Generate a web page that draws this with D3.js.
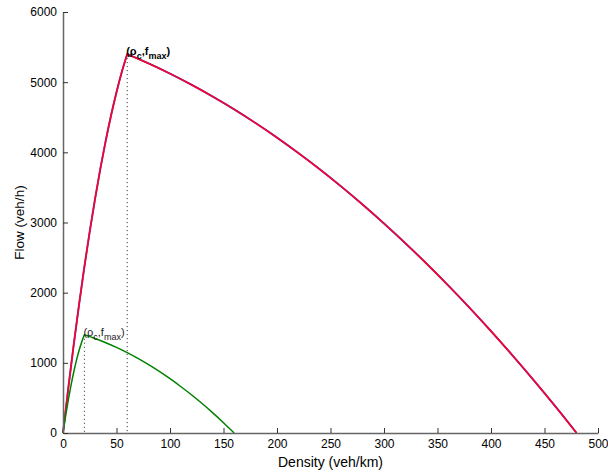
<!DOCTYPE html>
<html>
<head>
<meta charset="utf-8">
<script src="https://cdn.jsdelivr.net/npm/d3@7"></script>
<style>
  body { margin: 0; background: #fff; }
  svg text { font-family: "Liberation Sans", Arial, sans-serif; }
</style>
</head>
<body>
<svg id="chart" width="608" height="475"></svg>
<script>
const width = 608;
const height = 475;

// red curve (free-flow branch, then congested branch)
const redFreeDensity = [0, 5, 10, 15, 20, 25, 30, 35, 40, 45, 50, 55, 60];
const redFreeFlow = [0, 646, 1256, 1831, 2370, 2873, 3341, 3774, 4170, 4532, 4857, 5148, 5400];
const redCongDensity = [60, 80, 100, 120, 140, 160, 180, 200, 220, 240, 260, 280, 300, 320, 340, 360, 380, 400, 420, 440, 460, 480];
const redCongFlow = [5400, 5267, 5122, 4964, 4794, 4612, 4417, 4210, 3990, 3758, 3513, 3256, 2986, 2704, 2410, 2103, 1784, 1452, 1107, 751, 382, 0];

// green curve
const greenFreeDensity = [0, 2.5, 5, 7.5, 10, 12.5, 15, 17.5, 20];
const greenFreeFlow = [0, 248, 475, 681, 866, 1031, 1175, 1298, 1400];
const greenCongDensity = [20, 30, 40, 50, 60, 70, 80, 90, 100, 110, 120, 130, 140, 150, 160];
const greenCongFlow = [1400, 1347, 1287, 1220, 1145, 1063, 974, 878, 774, 663, 545, 420, 287, 147, 0];

// critical points
const critDensity = [60, 20];
const critFlow = [5400, 1400];

const xTicks = [0, 50, 100, 150, 200, 250, 300, 350, 400, 450, 500];
const yTicks = [0, 1000, 2000, 3000, 4000, 5000, 6000];

const margin = {left: 63, right: 10, top: 12, bottom: 42};

const svg = d3.select("#chart");

const x = d3.scaleLinear().domain([0, 500]).range([margin.left, width - margin.right]);
const y = d3.scaleLinear().domain([0, 6000]).range([height - margin.bottom, margin.top]);

function zipPts(xs, ys) {
    return xs.map((d, i) => [d, ys[i]]);
}

const line = d3.line()
    .x(d => x(d[0]))
    .y(d => y(d[1]))
    .curve(d3.curveMonotoneX);

// two branches joined in one path, kink kept at the peak
function branches(a, b) {
    return line(a) + line(b).replace(/^M/, "L");
}

// dotted verticals
svg.selectAll(".crit")
    .data(critDensity)
    .enter()
    .append("line")
    .attr("x1", d => x(d))
    .attr("x2", d => x(d))
    .attr("y1", (d, i) => y(critFlow[i]))
    .attr("y2", y(0))
    .attr("stroke", "#222")
    .attr("stroke-width", 1)
    .attr("stroke-dasharray", "1,3");

const redD = branches(zipPts(redFreeDensity, redFreeFlow), zipPts(redCongDensity, redCongFlow));
const greenD = branches(zipPts(greenFreeDensity, greenFreeFlow), zipPts(greenCongDensity, greenCongFlow));

svg.append("path").attr("d", redD)
    .attr("fill", "none").attr("stroke", "#4040d0").attr("stroke-width", 1.9);
svg.append("path").attr("d", redD)
    .attr("fill", "none").attr("stroke", "#ff0022").attr("stroke-width", 1.6);
svg.append("path").attr("d", greenD)
    .attr("fill", "none").attr("stroke", "#008000").attr("stroke-width", 1.5);

// axes
const xAxis = svg.append("g")
    .attr("transform", `translate(0,${y(0)})`)
    .call(d3.axisBottom(x).tickValues(xTicks).tickFormat(d3.format("d"))
        .tickSizeInner(-5).tickSizeOuter(0).tickPadding(6));
const yAxis = svg.append("g")
    .attr("transform", `translate(${x(0)},0)`)
    .call(d3.axisLeft(y).tickValues(yTicks).tickFormat(d3.format("d"))
        .tickSizeInner(-5).tickSizeOuter(0).tickPadding(6));

[xAxis, yAxis].forEach(g => {
    g.selectAll("path").attr("stroke", "#666").attr("stroke-width", 1.5);
    g.selectAll("line").attr("stroke", "#333");
    g.selectAll("text").attr("fill", "#000").style("font-size", "12px")
        .style("font-family", "'Liberation Sans', Arial, sans-serif");
});

svg.append("text")
    .attr("x", (x(0) + x(500)) / 2)
    .attr("y", 467)
    .attr("text-anchor", "middle")
    .style("font-size", "14px")
    .text("Density (veh/km)");

svg.append("text")
    .attr("transform", `translate(24,${(y(0) + y(6000)) / 2}) rotate(-90)`)
    .attr("text-anchor", "middle")
    .style("font-size", "13.5px")
    .text("Flow (veh/h)");

// peak labels
function peakLabel(i, bold, color) {
    const t = svg.append("text")
        .attr("x", x(critDensity[i]) - 1)
        .attr("y", y(critFlow[i]) + 1)
        .style("font-size", "11px")
        .style("font-weight", bold ? "bold" : "normal")
        .attr("fill", color);
    t.append("tspan").text("(ρ");
    t.append("tspan").attr("dy", 4).style("font-size", "9px").text("c");
    t.append("tspan").attr("dy", -4).text(",f");
    t.append("tspan").attr("dy", 4).style("font-size", "9px").text("max");
    t.append("tspan").attr("dy", -4).text(")");
}
peakLabel(0, true, "#000");
peakLabel(1, false, "#222");
</script>
</body>
</html>
